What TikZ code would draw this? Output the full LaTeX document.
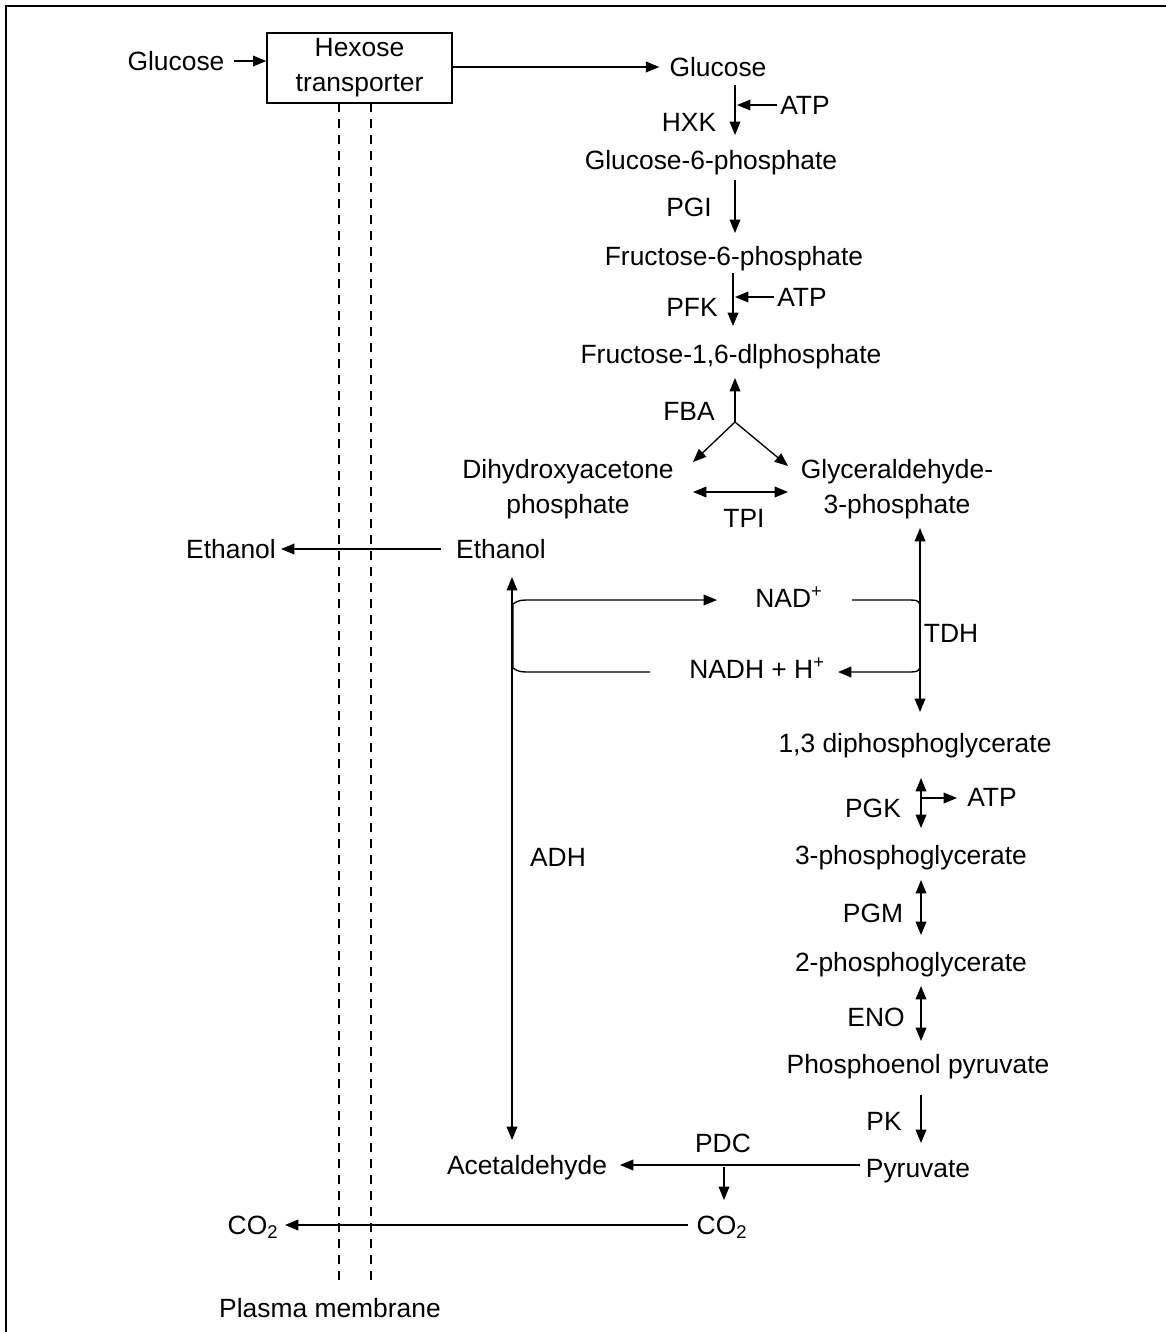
\documentclass[tikz,border=0pt]{standalone}
\usepackage{fontspec}
\setmainfont{Liberation Sans}
\usetikzlibrary{arrows.meta}
\begin{document}
\begin{tikzpicture}[x=0.75pt,y=-0.75pt,
  lbl/.style={font=\fontsize{19.8}{26.3}\selectfont, inner sep=0pt, text height=14pt, text depth=0pt},
  lbltwo/.style={font=\fontsize{19.8}{26.3}\selectfont, inner sep=0pt, align=center},
  ln/.style={line width=1pt},
  tip/.tip={Triangle[length=10pt,width=8pt]},
  arr/.style={ln,-tip},
  darr/.style={ln,tip-tip},
  memb/.style={line width=0.8pt, dash pattern=on 7pt off 5pt}
]
\useasboundingbox (0,0) rectangle (1166,1332);
\draw[ln] (6,1332) -- (6,6) -- (1166,6);

% transporter and membrane
\node[lbl] (glcout) at (176,61) {Glucose};
\node[draw, ln, lbltwo, minimum width=138.75pt, minimum height=52.5pt] (box) at (359.5,68) {\raisebox{-2pt}{Hexose}\\\raisebox{-2pt}{transporter}};
\coordinate (m1t) at (339,103); \coordinate (m1b) at (339,1282);
\coordinate (m2t) at (371,103); \coordinate (m2b) at (371,1282);
\draw[memb] (m1t) -- (m1b);
\draw[memb] (m2t) -- (m2b);
\node[lbl] (pm) at (330,1308) {Plasma membrane};

% glycolysis column
\node[lbl] (glc) at (718,67) {Glucose};
\node[lbl] (hxk) at (689,122) {HXK};
\node[lbl] (atp1) at (805,105) {ATP};
\node[lbl] (g6p) at (711,160) {Glucose-6-phosphate};
\node[lbl] (pgi) at (689,207) {PGI};
\node[lbl] (f6p) at (734,256) {Fructose-6-phosphate};
\node[lbl] (pfk) at (692,307) {PFK};
\node[lbl] (atp2) at (802,297) {ATP};
\node[lbl] (f16) at (731,354) {Fructose-1,6-dlphosphate};
\node[lbl] (fba) at (689,411) {FBA};
\node[lbltwo] (dhap) at (568,489) {Dihydroxyacetone\\phosphate};
\node[lbltwo] (g3p) at (897,489) {Glyceraldehyde-\\3-phosphate};
\node[lbl] (tpi) at (744,518) {TPI};
\node[lbl] (tdh) at (951,633) {TDH};
\node[lbl] (bpg) at (915,743) {1,3 diphosphoglycerate};
\node[lbl] (pgk) at (873,808) {PGK};
\node[lbl] (atp3) at (992,797) {ATP};
\node[lbl] (pg3) at (911,855) {3-phosphoglycerate};
\node[lbl] (pgm) at (873,913) {PGM};
\node[lbl] (pg2) at (911,962) {2-phosphoglycerate};
\node[lbl] (eno) at (876,1017) {ENO};
\node[lbl] (pep) at (918,1064) {Phosphoenol pyruvate};
\node[lbl] (pk) at (884,1121) {PK};
\node[lbl] (pyr) at (918,1168) {Pyruvate};
\node[lbl] (pdc) at (723,1143) {PDC};
\node[lbl] (acet) at (527,1165) {Acetaldehyde};
\node[lbl] (co2in) at (722,1225) {CO\textsubscript{2}};
\node[lbl] (co2out) at (253,1225) {CO\textsubscript{2}};
\node[lbl] (etoh) at (501,549) {Ethanol};
\node[lbl] (etohout) at (231,549) {Ethanol};
\node[lbl] (adh) at (558,857) {ADH};
\node[lbl] (nad) at (789,598) {NAD\textsuperscript{+}};
\node[lbl] (nadh) at (757,669) {NADH + H\textsuperscript{+}};

% connector end points
\coordinate (hxkA) at (735,85);  \coordinate (hxkB) at (735,135);
\coordinate (atp1e) at (737,105);
\coordinate (pgiA) at (735,180); \coordinate (pgiB) at (735,233);
\coordinate (pfkA) at (733,273); \coordinate (pfkB) at (733,326);
\coordinate (atp2e) at (735,297);
\coordinate (fbaJ) at (735,422); \coordinate (fbaU) at (735,378);
\coordinate (fbaL) at (693,462); \coordinate (fbaR) at (788,466);
\coordinate (tpiL) at (693,492); \coordinate (tpiR) at (788,492);
\coordinate (tdhA) at (920,528); \coordinate (tdhB) at (920,712);
\coordinate (pgkA) at (921,778); \coordinate (pgkB) at (921,828);
\coordinate (pgkJ) at (921,798); \coordinate (atp3e) at (957,798);
\coordinate (pgmA) at (921,880); \coordinate (pgmB) at (921,935);
\coordinate (enoA) at (921,986); \coordinate (enoB) at (921,1041);
\coordinate (pkA) at (921,1095); \coordinate (pkB) at (921,1143);
\coordinate (pdcA) at (860,1165); \coordinate (pdcB) at (620,1165);
\coordinate (pdcJ) at (724,1167); \coordinate (pdcC) at (724,1200);
\coordinate (co2A) at (688,1225); \coordinate (co2B) at (285,1225);
\coordinate (etA) at (441,549); \coordinate (etB) at (281,549);
\coordinate (adhA) at (512,577); \coordinate (adhB) at (512,1140);

% connectors
\draw[arr, shorten <=7pt] (glcout.east) -- (box.west |- glcout.east);
\draw[arr, shorten >=7.5pt] (box.east |- glc.west) -- (glc.west);
\draw[arr] (hxkA) -- (hxkB);
\draw[arr, shorten <=2pt] (atp1.west) -- (atp1e);
\draw[arr] (pgiA) -- (pgiB);
\draw[arr] (pfkA) -- (pfkB);
\draw[arr, shorten <=2pt] (atp2.west) -- (atp2e);
\draw[arr] (fbaJ) -- (fbaU);
\draw[arr] (fbaJ) -- (fbaL);
\draw[arr] (fbaJ) -- (fbaR);
\draw[darr] (tpiL) -- (tpiR);
\draw[darr] (tdhA) -- (tdhB);
\draw[darr] (pgkA) -- (pgkB);
\draw[arr] (pgkJ) -- (atp3e);
\draw[darr] (pgmA) -- (pgmB);
\draw[darr] (enoA) -- (enoB);
\draw[arr] (pkA) -- (pkB);
\draw[arr] (pdcA) -- (pdcB);
\draw[arr] (pdcJ) -- (pdcC);
\draw[arr] (co2A) -- (co2B);
\draw[arr] (etA) -- (etB);
\draw[darr] (adhA) -- (adhB);

% NAD / NADH shuttle
\draw[arr] (650,672) -- (535,672) .. controls (519,672) .. (513,668) -- (513,604)
  .. controls (519,600) .. (535,600) -- (717,600);
\draw[arr] (852,600) -- (903,600) .. controls (918,600) .. (920,605) -- (920,667)
  .. controls (918,672) .. (903,672) -- (838,672);
\end{tikzpicture}
\end{document}
